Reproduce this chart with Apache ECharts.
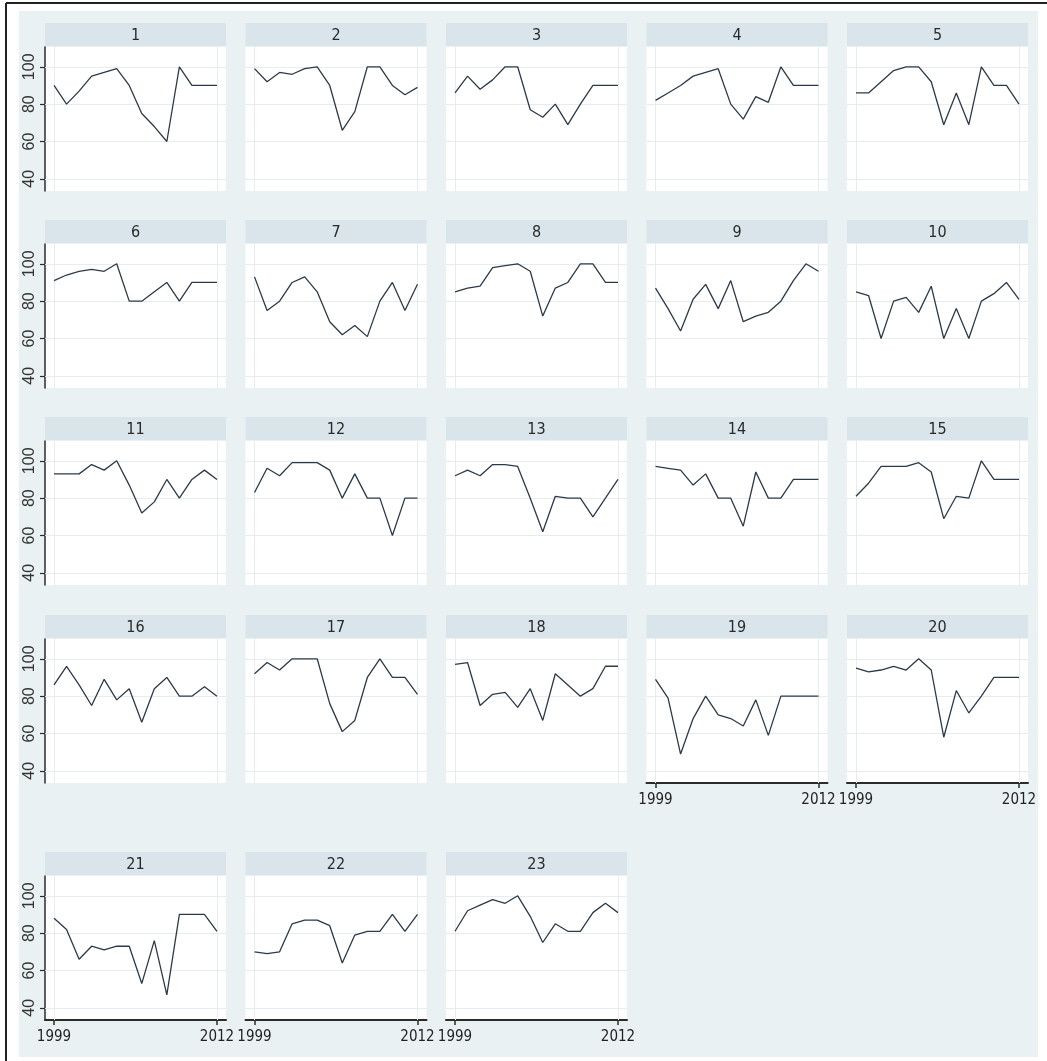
<!DOCTYPE html>
<html><head><meta charset="utf-8">
<script src="https://cdn.jsdelivr.net/npm/echarts@6/dist/echarts.min.js"></script>
<style>html,body{margin:0;padding:0;background:#fff}#c{width:1047px;height:1061px}</style>
</head><body><div id="c"></div>
<script>
const years = [1999,2000,2001,2002,2003,2004,2005,2006,2007,2008,2009,2010,2011,2012];
const panelNames = ['1','2','3','4','5','6','7','8','9','10','11','12','13','14','15','16','17','18','19','20','21','22','23'];
const yTicks = [40,60,80,100];
const xTicks = [1999,2012];
const p1  = [90,80,87,95,97,99,90,75,68,60,100,90,90,90];
const p2  = [99,92,97,96,99,100,90,66,76,100,100,90,85,89];
const p3  = [86,95,88,93,100,100,77,73,80,69,80,90,90,90];
const p4  = [82,86,90,95,97,99,80,72,84,81,100,90,90,90];
const p5  = [86,86,92,98,100,100,92,69,86,69,100,90,90,80];
const p6  = [91,94,96,97,96,100,80,80,85,90,80,90,90,90];
const p7  = [93,75,80,90,93,85,69,62,67,61,80,90,75,89];
const p8  = [85,87,88,98,99,100,96,72,87,90,100,100,90,90];
const p9  = [87,76,64,81,89,76,91,69,72,74,80,91,100,96];
const p10 = [85,83,60,80,82,74,88,60,76,60,80,84,90,81];
const p11 = [93,93,93,98,95,100,87,72,78,90,80,90,95,90];
const p12 = [83,96,92,99,99,99,95,80,93,80,80,60,80,80];
const p13 = [92,95,92,98,98,97,80,62,81,80,80,70,80,90];
const p14 = [97,96,95,87,93,80,80,65,94,80,80,90,90,90];
const p15 = [81,88,97,97,97,99,94,69,81,80,100,90,90,90];
const p16 = [86,96,86,75,89,78,84,66,84,90,80,80,85,80];
const p17 = [92,98,94,100,100,100,76,61,67,90,100,90,90,81];
const p18 = [97,98,75,81,82,74,84,67,92,86,80,84,96,96];
const p19 = [89,79,49,68,80,70,68,64,78,59,80,80,80,80];
const p20 = [95,93,94,96,94,100,94,58,83,71,80,90,90,90];
const p21 = [88,82,66,73,71,73,73,53,76,47,90,90,90,81];
const p22 = [70,69,70,85,87,87,84,64,79,81,81,90,81,90];
const p23 = [81,92,95,98,96,100,89,75,85,81,81,91,96,91];
const panels = [p1,p2,p3,p4,p5,p6,p7,p8,p9,p10,p11,p12,p13,p14,p15,p16,p17,p18,p19,p20,p21,p22,p23];

const colLeft = [45, 245.5, 446, 646.5, 847];
const panelW = 181;
const headerTops = [23, 220, 417, 615, 852];
const headerH = 23;
const plotTopOff = 24, plotBotOff = 168;
const bottomPanels = [18,19,20,21,22];
const narrow = '"Liberation Sans Narrow", "DejaVu Sans Condensed", "Liberation Sans", sans-serif';

const grids = [], xAxes = [], yAxes = [], series = [], graphics = [];
graphics.push({type:'rect', z:-10, shape:{x:19,y:11,width:1019,height:1046}, style:{fill:'#e9f1f3'}});
graphics.push({type:'line', z:50, shape:{x1:6,y1:3,x2:6,y2:1061}, style:{stroke:'#222',lineWidth:2}});
graphics.push({type:'line', z:50, shape:{x1:6,y1:3,x2:1047,y2:3}, style:{stroke:'#222',lineWidth:2}});

panels.forEach((d, i) => {
  const r = Math.floor(i/5), c = i%5;
  const left = colLeft[c], ht = headerTops[r];
  graphics.push({type:'rect', z:5, shape:{x:left,y:ht,width:panelW,height:headerH}, style:{fill:'#d9e5eb'}});
  graphics.push({type:'text', z:6, x:left+panelW/2, y:ht+headerH/2+1,
    style:{text:panelNames[i], fill:'#2a2a2a', font:'16px ' + narrow, textAlign:'center', textVerticalAlign:'middle'}});
  grids.push({left:left, top:ht+plotTopOff, width:panelW, height:plotBotOff-plotTopOff,
    show:true, backgroundColor:'#fff', borderWidth:0});
  const isBottom = bottomPanels.includes(i);
  const isLeft = c===0;
  xAxes.push({type:'value', gridIndex:i, min:1998.28, max:2012.72,
    splitLine:{show:false},
    axisLine:{show:isBottom, onZero:false, lineStyle:{color:'#2b2b2b', width:2}},
    axisTick:{show:isBottom, customValues:xTicks, length:5, lineStyle:{color:'#2b2b2b', width:1.5}},
    axisLabel:{show:isBottom, customValues:xTicks, formatter:v=>String(v), color:'#222', fontSize:15,
      fontFamily:narrow, margin:10}});
  yAxes.push({type:'value', gridIndex:i, min:33.5, max:110.6,
    splitLine:{show:false},
    axisLine:{show:isLeft, lineStyle:{color:'#2b2b2b', width:1.5}},
    axisTick:{show:isLeft, customValues:yTicks, length:5, lineStyle:{color:'#2b2b2b', width:1.2}},
    axisLabel:{show:isLeft, customValues:yTicks, rotate:90, color:'#333', fontSize:16,
      fontFamily:'"Liberation Sans", sans-serif', margin:7, align:'center', verticalAlign:'bottom'}});
  series.push({type:'line', xAxisIndex:i, yAxisIndex:i, data:[], z:1, silent:true,
    markLine:{z:1, silent:true, symbol:'none', label:{show:false}, animation:false,
      lineStyle:{color:'#e7ecee', type:'solid', width:1},
      data: yTicks.map(v=>({yAxis:v})).concat(xTicks.map(v=>({xAxis:v})))}});
  series.push({type:'line', xAxisIndex:i, yAxisIndex:i, z:3,
    data: years.map((y,k)=>[y, d[k]]),
    symbol:'none', lineStyle:{color:'#2c3a48', width:1.3}, animation:false});
});

const chart = echarts.init(document.getElementById('c'), null, {renderer:'canvas'});
chart.setOption({backgroundColor:'#fff', animation:false, grid:grids, xAxis:xAxes, yAxis:yAxes, series:series, graphic:graphics});
</script></body></html>
